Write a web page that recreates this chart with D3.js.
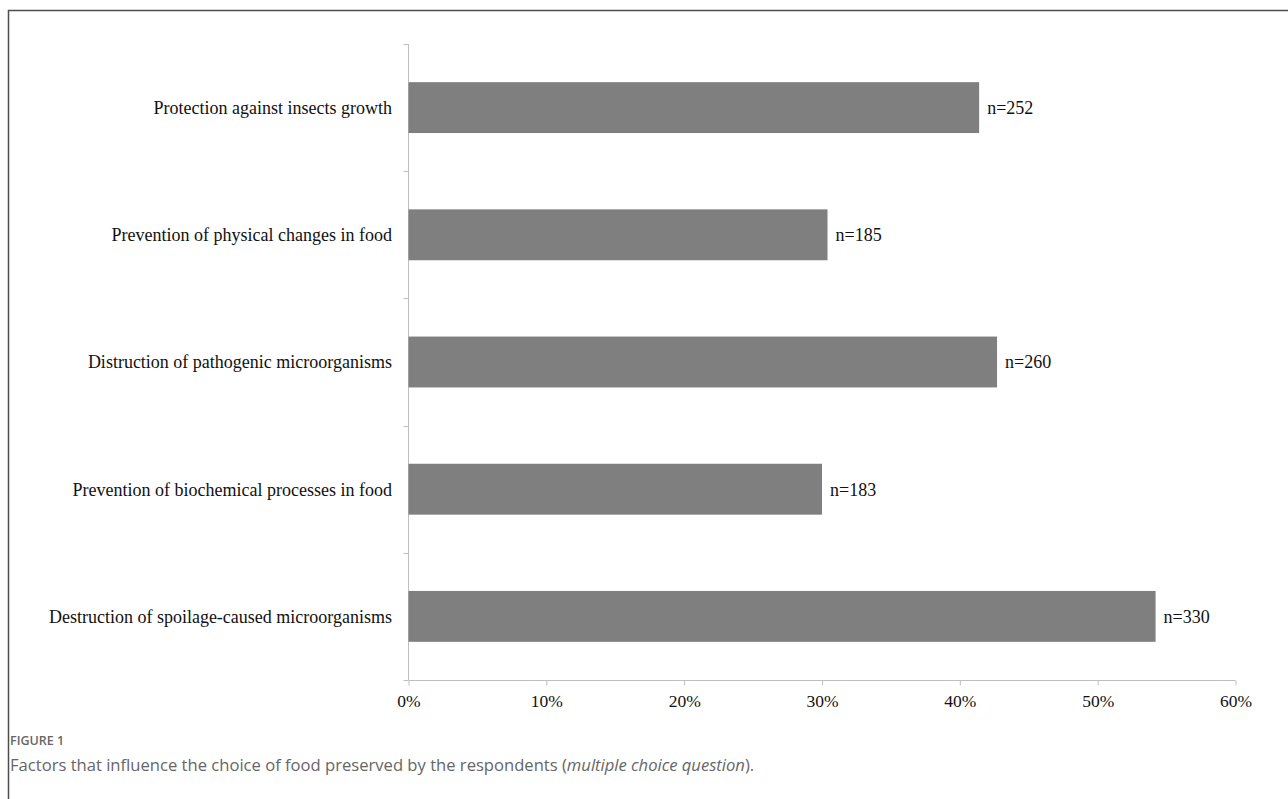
<!DOCTYPE html>
<html><head><meta charset="utf-8">
<script src="https://cdn.jsdelivr.net/npm/d3@7"></script>
<style>body{margin:0;background:#fff}svg{display:block}</style>
</head><body>
<svg id="c" width="1288" height="799"></svg>
<script>
const categories = [
  "Protection against insects growth",
  "Prevention of physical changes in food",
  "Distruction of pathogenic microorganisms",
  "Prevention of biochemical processes in food ",
  "Destruction of spoilage-caused microorganisms"
];
const percentValues = [41.4, 30.4, 42.7, 30.0, 54.2];
const countLabels = ["n=252", "n=185", "n=260", "n=183", "n=330"];
const xTicks = [0, 10, 20, 30, 40, 50, 60];
const figureLabel = "FIGURE 1";
const captionText = "Factors that influence the choice of food preserved by the respondents (";
const captionItalic = "multiple choice question";
const captionEnd = ").";

(function(){
const svg = d3.select("#c");
// frame
svg.append("path").attr("d","M8.5,799 L8.5,10.5 L1288,10.5")
  .attr("fill","none").attr("stroke","#4d4d4d").attr("stroke-width",1.5);

const pLeft = 408.5, pRight = 1235.5, pTop = 44, pBottom = 680;
const x = d3.scaleLinear().domain([0,60]).range([pLeft,pRight]);
const y = d3.scaleBand().domain(categories).range([pTop,pBottom]).paddingInner(0.6).paddingOuter(0.3);

const axisColor = "#bfbfbf";
const serif = "'Liberation Serif','Times New Roman',serif";
const fs = "18px";

// y axis line + ticks at band boundaries
const step = (pBottom-pTop)/categories.length;
svg.append("line").attr("x1",pLeft).attr("x2",pLeft).attr("y1",pTop).attr("y2",pBottom)
  .attr("stroke",axisColor).attr("stroke-width",1);
d3.range(categories.length+1).forEach(i=>{
  const yy = Math.round(pTop+i*step)+0.5;
  svg.append("line").attr("x1",pLeft-5).attr("x2",pLeft).attr("y1",yy).attr("y2",yy)
    .attr("stroke",axisColor);
});

// x axis
const xAxis = svg.append("g").attr("transform",`translate(0,${pBottom+0.5})`)
  .call(d3.axisBottom(x).tickValues(xTicks).tickFormat(d=>d+"%").tickSize(5).tickPadding(9));
xAxis.select(".domain").attr("stroke",axisColor).attr("d",`M${pLeft},0H${pRight}`);
xAxis.selectAll(".tick line").attr("stroke",axisColor);
xAxis.selectAll(".tick text").attr("fill","#111").style("font-family",serif).style("font-size","17.5px");

// bars
svg.append("g").selectAll("rect").data(categories).join("rect")
  .attr("x",x(0)).attr("y",d=>y(d)).attr("height",y.bandwidth())
  .attr("width",(d,i)=>x(percentValues[i])-x(0)).attr("fill","#7f7f7f");

// category labels
svg.append("g").selectAll("text").data(categories).join("text")
  .attr("x",392).attr("y",d=>y(d)+y.bandwidth()/2).attr("dy","0.35em")
  .attr("text-anchor","end").attr("fill","#111")
  .style("font-family",serif).style("font-size",fs).text(d=>d);

// n labels
svg.append("g").selectAll("text").data(categories).join("text")
  .attr("x",(d,i)=>x(percentValues[i])+8).attr("y",d=>y(d)+y.bandwidth()/2).attr("dy","0.35em")
  .attr("fill","#111").style("font-family",serif).style("font-size",fs)
  .text((d,i)=>countLabels[i]);

// caption
const sans = "'Open Sans','Noto Sans',sans-serif";
svg.append("text").attr("x",10).attr("y",745).attr("fill","#666")
  .style("font-family",sans).style("font-size","12.5px").style("font-weight","600").text(figureLabel);
const cap = svg.append("text").attr("x",10).attr("y",771).attr("fill","#666")
  .style("font-family",sans).style("font-size","16.6px");
cap.append("tspan").text(captionText);
cap.append("tspan").style("font-style","italic").text(captionItalic);
cap.append("tspan").text(captionEnd);
})();
</script>
</body></html>
